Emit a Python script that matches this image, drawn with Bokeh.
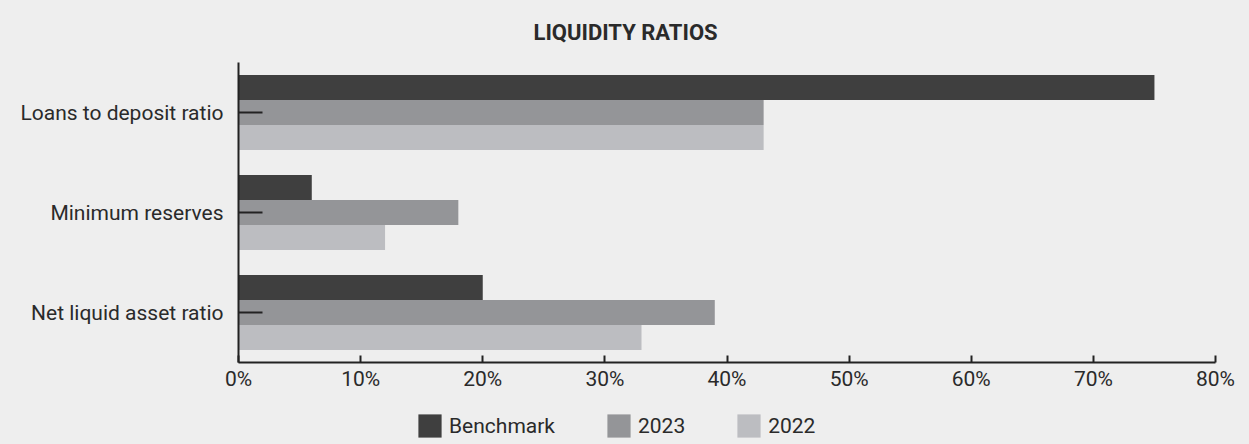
from bokeh.plotting import figure
from bokeh.layouts import column
from bokeh.models import (FactorRange, Range1d, FixedTicker, PrintfTickFormatter,
                          Legend, LegendItem, ColumnDataSource)
from bokeh.transform import dodge
from bokeh.embed import file_html
from bokeh.resources import INLINE

categories = ["Loans to deposit ratio", "Minimum reserves", "Net liquid asset ratio"]
benchmark = [75, 6, 20]
y2023 = [43, 18, 39]
y2022 = [43, 12, 33]
series_names = ["Benchmark", "2023", "2022"]
colors = ["#3f3f3f", "#949598", "#bcbdc1"]
x_ticks = [0, 10, 20, 30, 40, 50, 60, 70, 80]

BG = "#eeeeee"
TXT = "#2a2a2a"
FONT = "Roboto"
FS = "21px"

src = ColumnDataSource(dict(cat=categories, bench=benchmark, y23=y2023, y22=y2022))

p = figure(
    y_range=FactorRange(*list(reversed(categories)), range_padding=0),
    x_range=Range1d(0, 80),
    frame_width=977, frame_height=300,
    min_border_left=238, min_border_right=34, min_border_top=61, min_border_bottom=39,
    output_backend="svg", toolbar_location=None,
    background_fill_color=None, border_fill_color=BG,
    title="LIQUIDITY RATIOS",
)
p.outline_line_color = None
p.xgrid.visible = False
p.ygrid.visible = False

p.title.align = "left"
p.title.offset = 295
p.title.standoff = 35
p.title.text_font = FONT
p.title.text_font_size = "22px"
p.title.text_font_style = "bold"
p.title.text_color = TXT

p.hbar(y=dodge("cat", 0.25, range=p.y_range), right="bench", height=0.25, left=0,
       source=src, color=colors[0], line_color=None)
p.hbar(y=dodge("cat", 0.0, range=p.y_range), right="y23", height=0.25, left=0,
       source=src, color=colors[1], line_color=None)
p.hbar(y=dodge("cat", -0.25, range=p.y_range), right="y22", height=0.25, left=0,
       source=src, color=colors[2], line_color=None)

xa = p.xaxis[0]
xa.ticker = FixedTicker(ticks=x_ticks)
xa.formatter = PrintfTickFormatter(format="%d%%")
xa.axis_line_color = "#222222"
xa.axis_line_width = 2
xa.major_tick_line_color = "#222222"
xa.major_tick_line_width = 2
xa.major_tick_in = 7
xa.major_tick_out = 0
xa.minor_tick_line_color = None
xa.major_label_text_font = FONT
xa.major_label_text_font_size = FS
xa.major_label_text_color = TXT
xa.major_label_standoff = 4

ya = p.yaxis[0]
ya.axis_line_color = "#222222"
ya.axis_line_width = 2
ya.major_tick_line_color = "#222222"
ya.major_tick_line_width = 2
ya.major_tick_in = 24
ya.major_tick_out = 0
ya.major_label_text_font = FONT
ya.major_label_text_font_size = FS
ya.major_label_text_color = TXT
ya.major_label_standoff = 15

# legend strip below the chart (its frame is aligned with the chart's frame)
p2 = figure(
    width=1249, height=44, min_border=0,
    x_range=Range1d(0, 1), y_range=Range1d(0, 1),
    x_axis_location=None, y_axis_location=None,
    output_backend="svg", toolbar_location=None,
    background_fill_color=None, border_fill_color=BG,
)
p2.outline_line_color = None
p2.xgrid.visible = False
p2.ygrid.visible = False
nan = float("nan")
leg_src = ColumnDataSource(dict(y=[nan], right=[nan]))
lr = [p2.hbar(y="y", right="right", left=0, height=0.25, source=leg_src, color=c, line_color=None)
      for c in colors]

legend = Legend(
    items=[LegendItem(label=n, renderers=[r]) for n, r in zip(series_names, lr)],
    orientation="horizontal",
    location=(177, 5),
    glyph_width=29, glyph_height=29,
    label_standoff=5, spacing=49, padding=0, margin=0,
    background_fill_alpha=0, border_line_color=None,
    label_text_font=FONT, label_text_font_size=FS, label_text_color=TXT,
)
p2.add_layout(legend, "center")

layout = column(p, p2, spacing=0)
html = file_html(layout, INLINE)
html = html.replace("</head>", "<style>html,body{background:#eeeeee;}</style></head>", 1)
open("out.html", "w").write(html)
